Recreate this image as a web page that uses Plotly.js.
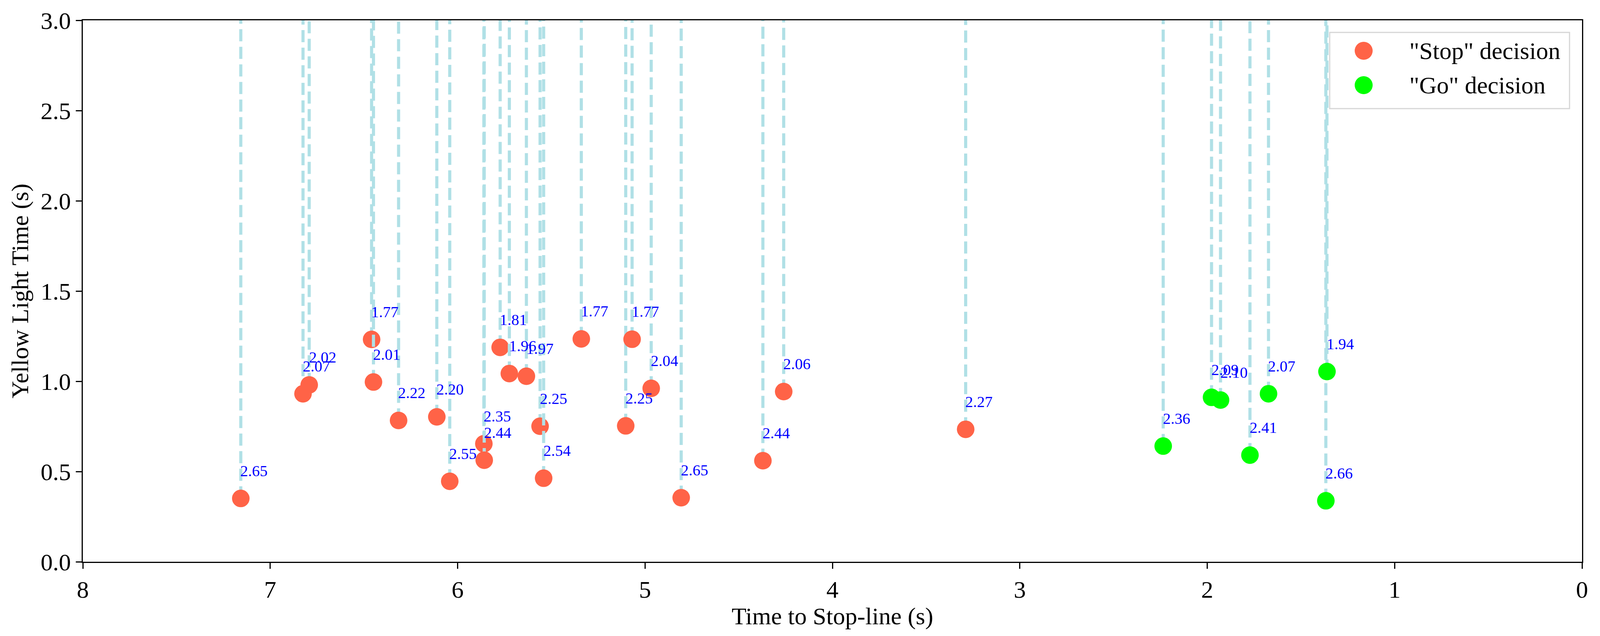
<!DOCTYPE html>
<html>
<head>
<meta charset="utf-8">
<script src="https://cdn.plot.ly/plotly-3.0.1.min.js"></script>
<style>
  html, body { margin: 0; padding: 0; background: #fff; overflow: hidden; }
  #chart { width: 100vw; height: 100vh; }
</style>
</head>
<body>
<div id="chart"></div>
<script>
// values, ordered by time to stop-line (descending)
var timeToStop = [7.157, 6.825, 6.792, 6.459, 6.449, 6.315, 6.111, 6.042, 5.860, 5.858,
                  5.773, 5.724, 5.633, 5.560, 5.541, 5.340, 5.103, 5.069, 4.967, 4.807,
                  4.371, 4.260, 3.289, 2.235, 1.977, 1.929, 1.772, 1.673, 1.367, 1.361];
var yellowTime = [0.351, 0.931, 0.980, 1.232, 0.996, 0.783, 0.803, 0.446, 0.654, 0.563,
                  1.188, 1.043, 1.028, 0.751, 0.463, 1.235, 0.753, 1.233, 0.961, 0.355,
                  0.560, 0.943, 0.734, 0.641, 0.911, 0.896, 0.591, 0.931, 0.338, 1.054];
var pointLabels = ["2.65", "2.07", "2.02", "1.77", "2.01", "2.22", "2.20", "2.55", "2.35", "2.44",
                   "1.81", "1.96", "1.97", "2.25", "2.54", "1.77", "2.25", "1.77", "2.04", "2.65",
                   "2.44", "2.06", "2.27", "2.36", "2.09", "2.10", "2.41", "2.07", "2.66", "1.94"];
var decision = ["stop", "stop", "stop", "stop", "stop", "stop", "stop", "stop", "stop", "stop",
                "stop", "stop", "stop", "stop", "stop", "stop", "stop", "stop", "stop", "stop",
                "stop", "stop", "stop", "go", "go", "go", "go", "go", "go", "go"];

var decisionKeys = ["stop", "go"];
var decisionNames = ['"Stop" decision', '"Go" decision'];
var decisionColors = ["#ff6347", "#00ff00"];

var xRange = [8, 0];
var yRange = [0, 3];
var fontFamily = "Liberation Serif, Times New Roman, serif";

// fit the figure to whatever viewport we actually get
var W = window.innerWidth || 4442;
var H = window.innerHeight || 1628;
var mL = 212, mR = 46, mT = 52, mB = 190;
var plotW = W - mL - mR, plotH = H - mT - mB;
// legend box, measured in pixels from the top-right corner of the axes
function px(dx) { return 1 - dx / plotW; }
function py(dy) { return 1 - dy / plotH; }

var traces = [];
var annotations = [];

for (var i = 0; i < timeToStop.length; i++) {
    var c = decisionColors[decisionKeys.indexOf(decision[i])];
    // dashed line from the point up to the top of the axes
    traces.push({
        x: [timeToStop[i], timeToStop[i]],
        y: [yellowTime[i], yRange[1]],
        mode: "lines",
        line: { color: "#b0e0e6", width: 8, dash: "31px,14px" },
        hoverinfo: "skip",
        showlegend: false
    });
    traces.push({
        x: [timeToStop[i]],
        y: [yellowTime[i]],
        mode: "markers",
        marker: { size: 45, color: c },
        showlegend: false,
        cliponaxis: false
    });
    annotations.push({
        x: timeToStop[i],
        y: yellowTime[i] + 0.1,
        xref: "x", yref: "y",
        text: pointLabels[i],
        showarrow: false,
        xanchor: "left",
        yanchor: "bottom",
        xshift: -3,
        font: { family: fontFamily, size: 40, color: "#0000ff" }
    });
}

// legend box drawn by hand so the markers keep their real size
var shapes = [{
    type: "rect", xref: "paper", yref: "paper",
    x0: px(646), x1: px(32), y0: py(226), y1: py(31),
    fillcolor: "rgba(255,255,255,0.9)",
    line: { color: "#d6d6d6", width: 3 },
    layer: "above"
}];
var legendDy = [78, 166];
decisionNames.forEach(function (name, k) {
    shapes.push({
        type: "circle", xref: "paper", yref: "paper",
        xsizemode: "pixel", ysizemode: "pixel",
        xanchor: px(559), yanchor: py(legendDy[k]),
        x0: -23, x1: 23, y0: -23, y1: 23,
        fillcolor: decisionColors[k],
        line: { width: 0 },
        layer: "above"
    });
    annotations.push({
        x: px(444), y: py(legendDy[k]),
        xref: "paper", yref: "paper",
        text: name,
        showarrow: false,
        xanchor: "left",
        yanchor: "middle",
        font: { family: fontFamily, size: 62, color: "#000000" }
    });
});

var layout = {
    width: W,
    height: H,
    margin: { l: mL, r: mR, t: mT, b: mB },
    paper_bgcolor: "#ffffff",
    plot_bgcolor: "#ffffff",
    font: { family: fontFamily, size: 62, color: "#000000" },
    showlegend: false,
    xaxis: {
        range: xRange,
        dtick: 1,
        tick0: 0,
        showgrid: false,
        zeroline: false,
        showline: true,
        mirror: true,
        linecolor: "#000000",
        linewidth: 3,
        ticks: "outside",
        ticklen: 15,
        tickwidth: 3,
        tickcolor: "#000000",
        tickfont: { family: fontFamily, size: 62 },
        title: { text: "Time to Stop-line (s)", font: { family: fontFamily, size: 62 }, standoff: 8 }
    },
    yaxis: {
        range: yRange,
        dtick: 0.5,
        tick0: 0,
        tickformat: ".1f",
        showgrid: false,
        zeroline: false,
        showline: true,
        mirror: true,
        linecolor: "#000000",
        linewidth: 3,
        ticks: "outside",
        ticklen: 15,
        tickwidth: 3,
        tickcolor: "#000000",
        tickfont: { family: fontFamily, size: 62 },
        title: { text: "Yellow Light Time (s)", font: { family: fontFamily, size: 62 }, standoff: 12 }
    },
    shapes: shapes,
    annotations: annotations
};

Plotly.newPlot("chart", traces, layout, { staticPlot: true });
</script>
</body>
</html>
